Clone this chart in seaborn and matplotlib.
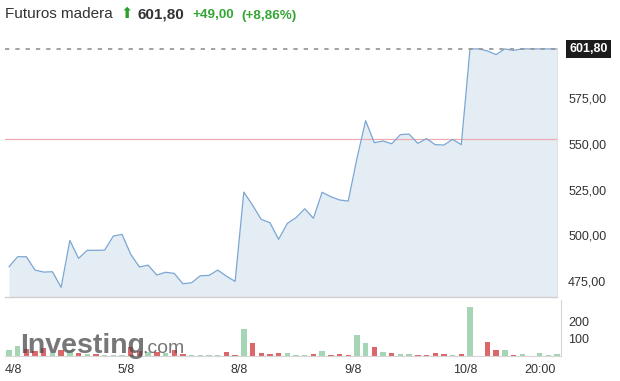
import matplotlib
matplotlib.use("Agg")
import matplotlib.pyplot as plt
import matplotlib.transforms as mtransforms
import seaborn as sns
import pandas as pd
import numpy as np

# ---------------- data ----------------
prices = [482.8, 488.3, 488.3, 481.0, 479.9, 480.1, 471.6, 497.2, 487.4, 491.8,
          491.8, 491.9, 499.6, 500.5, 489.6, 482.7, 483.7, 478.3, 479.8, 479.2,
          473.5, 474.1, 477.9, 478.1, 481.0, 477.7, 474.8, 523.6, 516.5, 508.7,
          506.9, 497.8, 506.5, 509.6, 514.5, 509.3, 523.5, 521.1, 519.3, 518.7,
          541.9, 562.6, 550.6, 551.5, 550.0, 555.0, 555.3, 550.2, 552.8, 549.5,
          549.3, 552.4, 549.5, 601.8, 601.8, 600.7, 598.7, 601.8, 601.0, 601.8,
          601.8, 601.8, 601.8, 601.8]
volumes = [36, 56, 40, 30, 44, 20, 34, 34, 18, 10,
           10, 8, 6, 6, 54, 30, 24, 24, 20, 34,
           10, 8, 4, 4, 4, 26, 4, 158, 74, 20,
           14, 20, 20, 4, 4, 10, 32, 4, 10, 6,
           124, 75, 51, 25, 16, 10, 10, 4, 4, 16,
           10, 4, 10, 285, 2, 81, 33, 33, 4, 10,
           2, 16, 4, 10]
directions = ["up", "up", "down", "down", "down", "up", "down", "up", "down", "up",
              "down", "up", "up", "up", "down", "down", "up", "down", "up", "down",
              "down", "up", "up", "up", "up", "down", "down", "up", "down", "down",
              "down", "down", "up", "up", "up", "down", "up", "down", "down", "down",
              "up", "up", "down", "up", "down", "up", "up", "down", "down", "down",
              "down", "up", "down", "up", "up", "down", "down", "up", "down", "up",
              "up", "up", "up", "up"]
x_tick_pos = [0.5, 13.5, 26.5, 39.5, 52.5, 61]
x_tick_labels = ["4/8", "5/8", "8/8", "9/8", "10/8", "20:00"]
price_ticks = [475, 500, 525, 550, 575]
price_tick_labels = ["475,00", "500,00", "525,00", "550,00", "575,00"]
vol_ticks = [100, 200]
vol_tick_labels = ["100", "200"]
last_price = 601.80
prev_close = 552.80
title_name = "Futuros madera"
title_price = "601,80"
title_change = "+49,00"
title_pct = "(+8,86%)"

df = pd.DataFrame({"idx": np.arange(len(prices)), "price": prices,
                   "volume": volumes, "dir": directions})

# ---------------- style ----------------
sns.set_style("white")
plt.rcParams["font.family"] = ["Liberation Sans", "DejaVu Sans"]

W, H = 620, 381
fig = plt.figure(figsize=(W / 100, H / 100), dpi=100)


def rect(l, t, r, b):
    return [l / W, 1 - b / H, (r - l) / W, (b - t) / H]


ax = fig.add_axes(rect(4.6, 48, 557, 297))
axv = fig.add_axes(rect(4.6, 300, 561.4, 356))

LINE = "#7aa6d4"
FILL = "#e4ecf4"
TXT = "#333333"

# ---------------- price panel ----------------
ymin, ymax = 466.3, 602.3
ax.fill_between(df["idx"], df["price"], ymin, color=FILL, lw=0, zorder=1)
sns.lineplot(data=df, x="idx", y="price", ax=ax, color=LINE, lw=0.9, zorder=3)
ax.axhline(prev_close, color="#f1a9b0", lw=0.9, zorder=2)
lw_d = 1.3
ax.axhline(last_price, color="#9a9a9a", lw=lw_d,
           ls=(0, (4.3 / 1.389 / lw_d, 6.0 / 1.389 / lw_d)), zorder=4)
ax.set_xlim(-0.5, 63)
ax.set_ylim(ymin, ymax)
ax.set_xlabel("")
ax.set_ylabel("")
ax.set_xticks([])
ax.yaxis.tick_right()
ax.set_yticks(price_ticks)
ax.set_yticklabels(price_tick_labels)
ax.tick_params(axis="y", length=0, pad=8, labelsize=9, labelcolor=TXT)
for s in ["top", "left"]:
    ax.spines[s].set_visible(False)
ax.spines["bottom"].set_color("#d0d0d0")
ax.spines["bottom"].set_linewidth(1.0)
ax.spines["right"].set_color("#e2e2e2")
ax.spines["right"].set_linewidth(0.8)

trans = mtransforms.blended_transform_factory(ax.transAxes, ax.transData)
ax.annotate(title_price, xy=(1, last_price), xycoords=trans,
            xytext=(9, 0), textcoords="offset points", va="center", ha="left",
            color="white", fontsize=9, fontweight="bold",
            bbox=dict(boxstyle="square,pad=0.25", fc="#1c1c1c", ec="none"),
            annotation_clip=False, zorder=6)

# ---------------- volume panel ----------------
sns.barplot(data=df, x="idx", y="volume", hue="dir", ax=axv,
            palette={"up": "#a6d5b6", "down": "#dc676b"}, dodge=False,
            native_scale=True, width=0.62, legend=False, saturation=1,
            linewidth=0)
axv.set_xlim(-0.5, 63.5)
axv.set_ylim(0, 327)
axv.set_xlabel("")
axv.set_ylabel("")
axv.set_xticks(x_tick_pos)
axv.set_xticklabels(x_tick_labels)
axv.yaxis.tick_right()
axv.set_yticks(vol_ticks)
axv.set_yticklabels(vol_tick_labels)
axv.tick_params(axis="y", length=0, pad=5, labelsize=9, labelcolor=TXT)
axv.tick_params(axis="x", length=3, width=0.8, color="#cccccc", pad=3,
                labelsize=9, labelcolor=TXT)
for s in ["top", "left"]:
    axv.spines[s].set_visible(False)
axv.spines["bottom"].set_color("#d6d6d6")
axv.spines["right"].set_color("#d6d6d6")
axv.spines["bottom"].set_linewidth(0.8)
axv.spines["right"].set_linewidth(0.8)

# watermark
fig.text(20 / W, 1 - 353 / H, "Investing", fontsize=20.5, fontweight="bold",
         color="#4a4a4a", alpha=0.75, ha="left", va="baseline", zorder=10)
fig.text(142 / W, 1 - 353 / H, ".com", fontsize=14, color="#4a4a4a",
         alpha=0.75, ha="left", va="baseline", zorder=10)

# ---------------- title ----------------
base = 1 - 18.5 / H
fig.text(5 / W, base, title_name, fontsize=11, color=TXT, va="baseline")
fig.text(120 / W, base, "\u2B06", fontsize=10.5, color="#2e9e2e", va="baseline",
         family=["DejaVu Sans"])
fig.text(137 / W, base, title_price, fontsize=11, fontweight="bold",
         color=TXT, va="baseline")
fig.text(192 / W, base, title_change, fontsize=9.7, fontweight="bold",
         color="#35a535", va="baseline")
fig.text(241 / W, base, title_pct, fontsize=9.7, fontweight="bold",
         color="#35a535", va="baseline")

fig.savefig("out.png", dpi=100)
